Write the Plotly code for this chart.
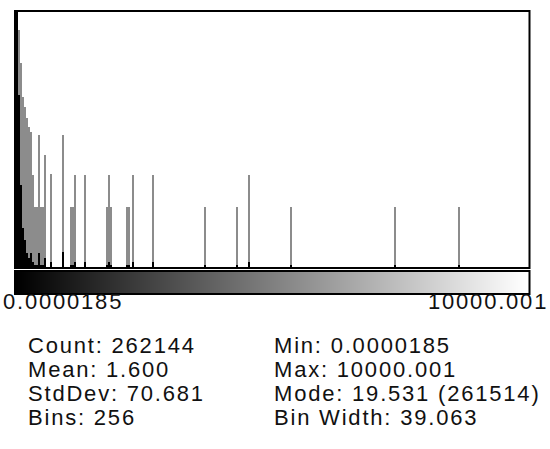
import plotly.graph_objects as go

W, H = 550, 449
BIN_WIDTH = 39.063
N_BINS = 256

# Non-empty bins (bin index) with displayed heights (0..255 display units)
log_bins = [0, 1, 2, 3, 4, 5, 6, 7, 8, 9, 10, 11, 12, 13, 14, 17, 23, 27, 28, 29, 34,
            45, 46, 47, 55, 56, 58, 68, 94, 110, 116, 137, 189, 221]
log_heights = [255, 237, 204, 170, 160, 149, 140, 135, 92, 60, 60, 132, 60, 60, 112, 93, 132, 60, 60, 92, 92,
               60, 92, 60, 60, 60, 92, 92, 60, 60, 92, 60, 60, 60]

lin_bins = [0, 1, 2, 3, 4, 5, 6, 7, 8, 9, 10, 11, 12, 13, 14, 17, 23, 27, 28, 29, 34,
            45, 46, 47, 55, 56, 58, 68, 94, 110, 116, 137, 189, 221]
lin_heights = [255, 172, 82, 39, 27, 14, 9, 14, 5, 2, 2, 14, 2, 2, 9, 5, 15, 2, 2, 5, 5,
               2, 5, 2, 2, 2, 5, 5, 2, 2, 5, 2, 2, 2]

x_min_label = "0.0000185"
x_max_label = "10000.001"
stats_left = ["Count: 262144", "Mean: 1.600", "StdDev: 70.681", "Bins: 256"]
stats_right = ["Min: 0.0000185", "Max: 10000.001", "Mode: 19.531 (261514)", "Bin Width: 39.063"]

def px_x(p):
    return p / W

def px_y(p):
    return (H - p) / H

def spaced(s):
    return '<span style="letter-spacing:1.8px">' + s + '</span>'

x_log = [(b + 0.5) * BIN_WIDTH for b in log_bins]
x_lin = [(b + 0.5) * BIN_WIDTH for b in lin_bins]

fig = go.Figure()
fig.add_trace(go.Bar(x=x_log, y=log_heights, width=BIN_WIDTH * 0.8,
                     marker=dict(color="#8c8c8c", line=dict(width=0)),
                     xaxis="x", yaxis="y", showlegend=False))
fig.add_trace(go.Bar(x=x_lin, y=lin_heights, width=BIN_WIDTH,
                     marker=dict(color="#000000", line=dict(width=0)),
                     xaxis="x", yaxis="y", showlegend=False))

# gradient bar (LUT)
lut = list(range(N_BINS))
fig.add_trace(go.Heatmap(z=[lut], x=[(i + 0.5) * BIN_WIDTH for i in lut], y=[0],
                         colorscale=[[0, "black"], [1, "white"]], showscale=False,
                         xaxis="x2", yaxis="y2", hoverinfo="skip"))

fig.update_layout(
    width=W, height=H, margin=dict(l=0, r=0, t=0, b=0),
    paper_bgcolor="white", plot_bgcolor="white",
    barmode="overlay", bargap=0,
    xaxis=dict(domain=[px_x(16), px_x(528)], range=[0, N_BINS * BIN_WIDTH],
               showgrid=False, zeroline=False, showticklabels=False, ticks=""),
    yaxis=dict(domain=[px_y(267), px_y(12)], range=[0, 255],
               showgrid=False, zeroline=False, showticklabels=False, ticks=""),
    xaxis2=dict(domain=[px_x(16), px_x(528)], range=[0, N_BINS * BIN_WIDTH], anchor="y2",
                showgrid=False, zeroline=False, showticklabels=False, ticks=""),
    yaxis2=dict(domain=[px_y(293), px_y(272)], range=[-0.5, 0.5], anchor="x2",
                showgrid=False, zeroline=False, showticklabels=False, ticks=""),
    font=dict(family="Liberation Sans, Arial, sans-serif", color="#111111"),
)

shapes = [
    dict(type="rect", xref="paper", yref="paper", x0=px_x(15), x1=px_x(529.5),
         y0=px_y(268), y1=px_y(11), line=dict(color="black", width=2)),
    dict(type="rect", xref="paper", yref="paper", x0=px_x(15), x1=px_x(529.5),
         y0=px_y(294), y1=px_y(271), line=dict(color="black", width=2)),
]
fig.update_layout(shapes=shapes)

ann = []
FS = 22
ann.append(dict(text=spaced(x_min_label), x=px_x(1), y=px_y(301), xref="paper", yref="paper",
                xanchor="left", yanchor="middle", showarrow=False, font=dict(size=FS)))
ann.append(dict(text=spaced(x_max_label), x=px_x(550), y=px_y(301), xref="paper", yref="paper",
                xanchor="right", yanchor="middle", showarrow=False, font=dict(size=FS)))
for i, (l, r) in enumerate(zip(stats_left, stats_right)):
    yc = 345 + 24 * i
    ann.append(dict(text=spaced(l), x=px_x(26), y=px_y(yc), xref="paper", yref="paper",
                    xanchor="left", yanchor="middle", showarrow=False, font=dict(size=FS)))
    ann.append(dict(text=spaced(r), x=px_x(272), y=px_y(yc), xref="paper", yref="paper",
                    xanchor="left", yanchor="middle", showarrow=False, font=dict(size=FS)))
fig.update_layout(annotations=ann)

fig.write_html("out.html")
